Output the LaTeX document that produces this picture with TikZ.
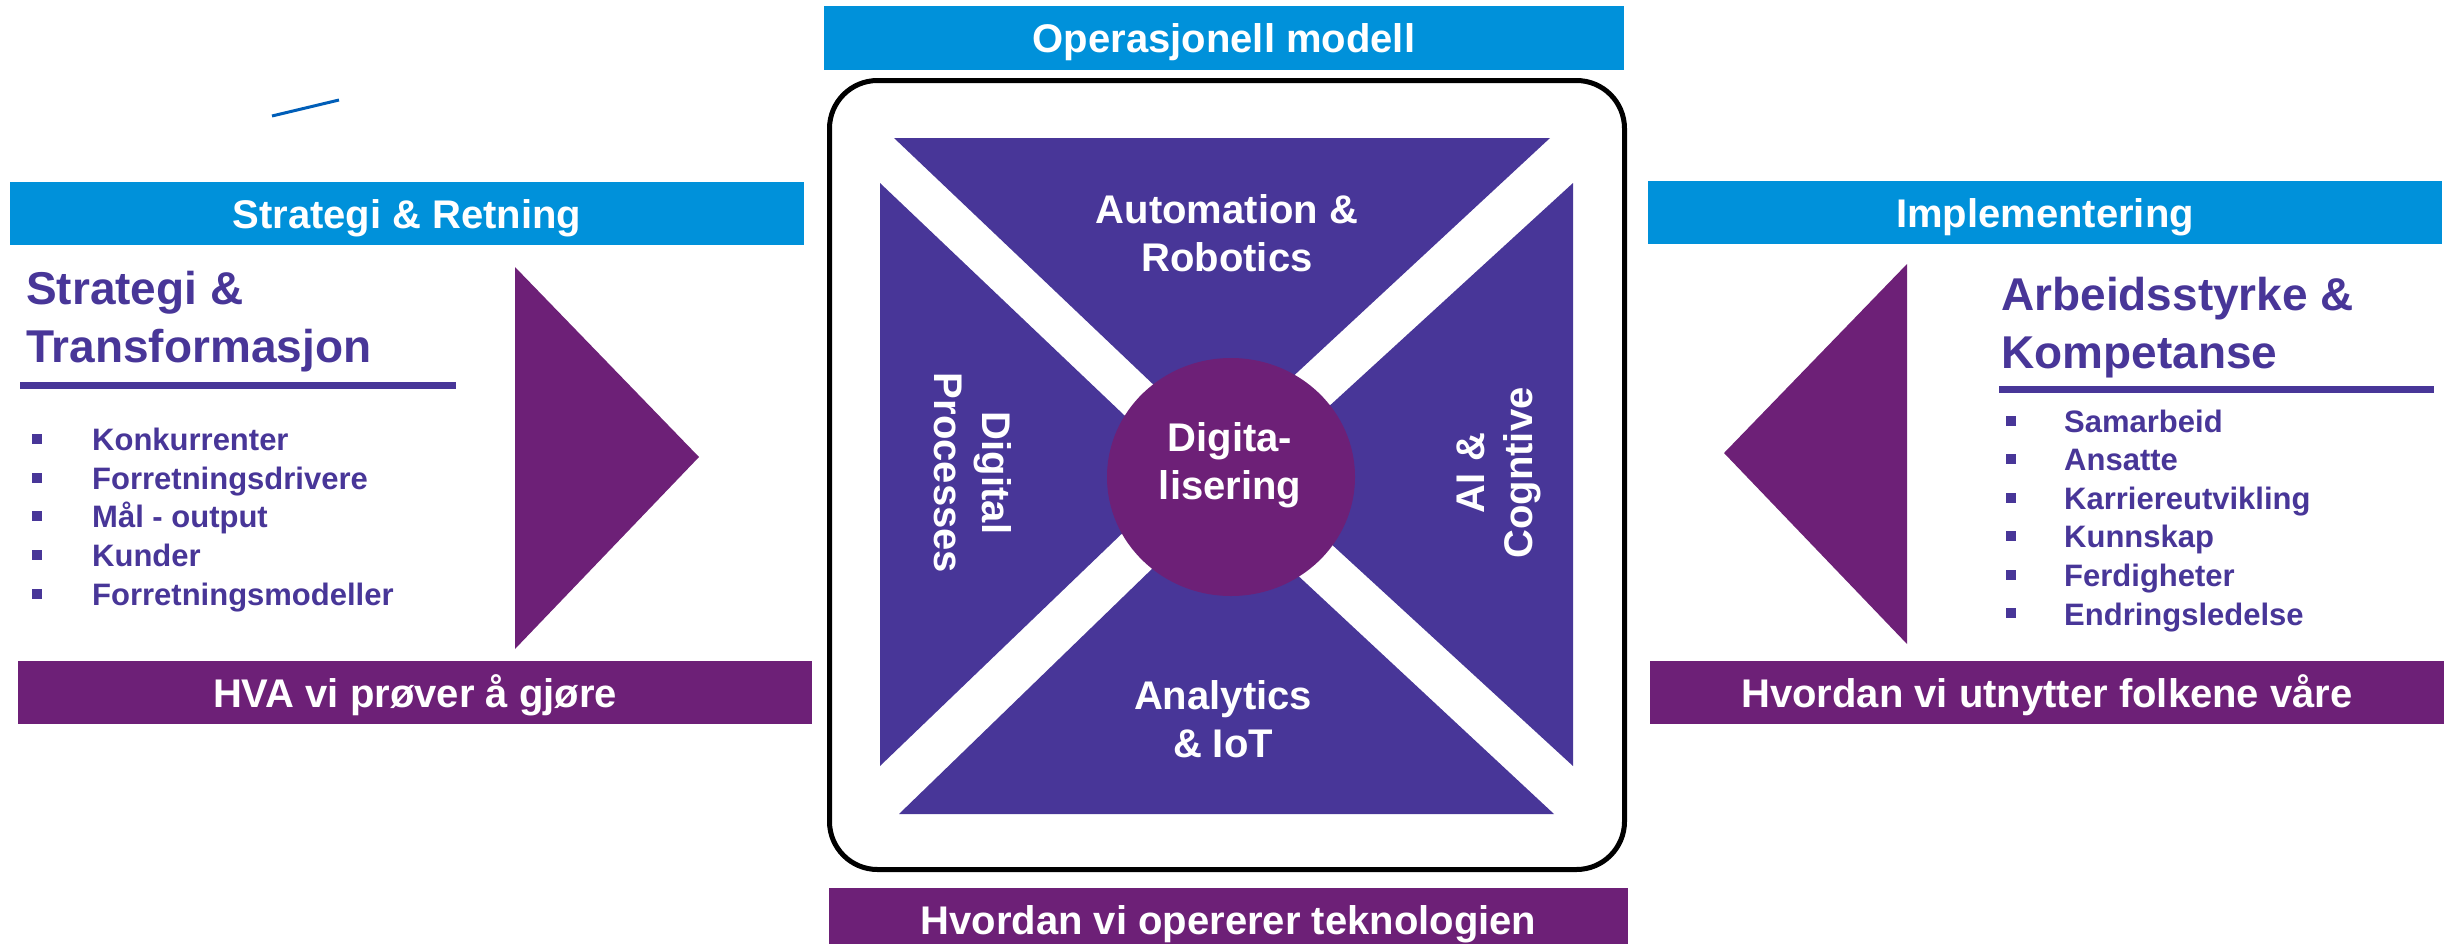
\documentclass[tikz,border=0pt]{standalone}
\usepackage{fontspec}
\setmainfont{Liberation Sans}
\usetikzlibrary{shapes.geometric}
\definecolor{kblue}{RGB}{0,145,218}
\definecolor{kpurple}{RGB}{109,32,119}
\definecolor{kviolet}{RGB}{72,54,152}
\definecolor{kline}{RGB}{0,94,184}
\begin{document}
\begin{tikzpicture}[x=1pt, y=-1pt,
    every node/.style={inner sep=0pt, font=\bfseries},
    barbox/.style={minimum width=794pt, minimum height=63pt, text height=29pt, text depth=0pt, text=white, font=\bfseries\fontsize{40}{48}\selectfont},
    headtext/.style={anchor=base west, align=left, text=kviolet, font=\bfseries\fontsize{46}{58}\selectfont},
    listtext/.style={anchor=base west, text=kviolet, font=\bfseries\fontsize{31}{38}\selectfont},
    bulletbox/.style={fill=kviolet, minimum size=10pt},
    quadtext/.style={anchor=base, align=center, text=white, font=\bfseries\fontsize{40}{48}\selectfont}]
      \useasboundingbox (0,0) rectangle (2450,943);
      \draw[kline, line width=3pt] (272,116) -- (339,100);
      \node[barbox, fill=kblue] (strategyhead) at (407,213.5) {Strategi \& Retning};
      \node[headtext] (strategy) at (26,362) {Strategi \&\\Transformasjon};
      \fill[kviolet] (20,382) rectangle (456,389);
      \node[bulletbox] (lb1) at (37,439) {};
      \node[bulletbox] (lb2) at (37,478) {};
      \node[bulletbox] (lb3) at (37,516) {};
      \node[bulletbox] (lb4) at (37,555) {};
      \node[bulletbox] (lb5) at (37,594) {};
      \node[listtext] (l1) at (92,450) {Konkurrenter};
      \node[listtext] (l2) at (92,489) {Forretningsdrivere};
      \node[listtext] (l3) at (92,527) {Mål - output};
      \node[listtext] (l4) at (92,566) {Kunder};
      \node[listtext] (l5) at (92,605) {Forretningsmodeller};
      \fill[kpurple] (515,267) -- (699,457) -- (515,649) -- cycle;
      \node[barbox, fill=kpurple] (whatbar) at (415,692.5) {HVA vi prøver å gjøre};
      \node[barbox, fill=kblue, minimum width=800pt, minimum height=64pt] (opshead) at (1224,38) {Operasjonell modell};
      \draw[line width=5pt, rounded corners=48pt] (829.5,80.5) rectangle (1624.5,869.5);
      \begin{scope}[kviolet]
        \fill (894,138) -- (1550,138) -- (1218,446) -- cycle;
        \fill (880,183) -- (1185,473) -- (880,766) -- cycle;
        \fill (1573,183) -- (1573,766) -- (1255,474) -- cycle;
        \fill (899,814) -- (1220,503) -- (1554,814) -- cycle;
      \end{scope}
      \node[ellipse, fill=kpurple, minimum width=248pt, minimum height=238pt] (core) at (1231,477) {};
      \node[quadtext] (automation) at (1227,271) {Automation \&\\Robotics};
      \node[quadtext] (analytics) at (1223,757) {Analytics\\\& IoT};
      \node[quadtext, rotate=-90] (processes) at (934,473) {Digital\\Processes};
      \node[quadtext, rotate=90] (cognitive) at (1532,473) {AI \&\\Cogntive};
      \node[quadtext] (coretext) at (1230,499) {Digita-\\lisering};
      \node[barbox, fill=kpurple, minimum width=799pt] (techbar) at (1228.5,919.5) {Hvordan vi opererer teknologien};
      \node[barbox, fill=kblue] (implhead) at (2045,212.5) {Implementering};
      \node[headtext] (workforce) at (2001,368) {Arbeidsstyrke \&\\Kompetanse};
      \fill[kviolet] (1999,386) rectangle (2434,393);
      \fill[kpurple] (1907,264) -- (1724,453) -- (1907,644) -- cycle;
      \node[bulletbox] (rb1) at (2011,420.5) {};
      \node[bulletbox] (rb2) at (2011,459) {};
      \node[bulletbox] (rb3) at (2011,497.5) {};
      \node[bulletbox] (rb4) at (2011,536) {};
      \node[bulletbox] (rb5) at (2011,574.5) {};
      \node[bulletbox] (rb6) at (2011,613) {};
      \node[listtext] (r1) at (2064,432) {Samarbeid};
      \node[listtext] (r2) at (2064,470.5) {Ansatte};
      \node[listtext] (r3) at (2064,509) {Karriereutvikling};
      \node[listtext] (r4) at (2064,547.5) {Kunnskap};
      \node[listtext] (r5) at (2064,586) {Ferdigheter};
      \node[listtext] (r6) at (2064,625) {Endringsledelse};
      \node[barbox, fill=kpurple] (peoplebar) at (2047,692.5) {Hvordan vi utnytter folkene våre};
    \end{tikzpicture}
\end{document}
